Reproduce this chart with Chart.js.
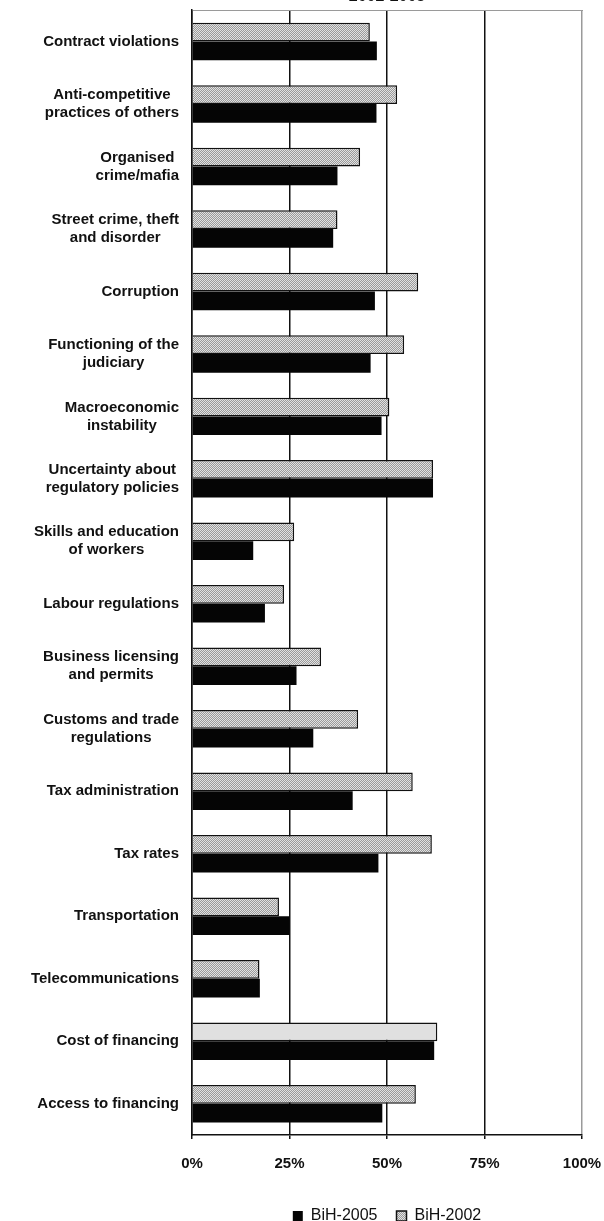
<!DOCTYPE html>
<html>
<head>
<meta charset="utf-8">
<script src="https://cdn.jsdelivr.net/npm/chart.js@4.4.1/dist/chart.umd.min.js"></script>
<style>
  html, body { margin: 0; padding: 0; background: #fff; overflow: hidden; }
  #marco { position: relative; width: 604px; height: 1221px; overflow: hidden; }
  #lienzo { position: absolute; left: 0; top: -13px; width: 604px; height: 1247px; }
</style>
</head>
<body>
<div id="marco">
  <div id="lienzo"><canvas id="grafica"></canvas></div>
</div>
<script>
/* =======================================
   DATOS
======================================= */
const categorias = [
  "Contract violations",
  ["Anti-competitive", "practices of others"],
  ["Organised", "crime/mafia"],
  ["Street crime, theft", "and disorder"],
  "Corruption",
  ["Functioning of the", "judiciary"],
  ["Macroeconomic", "instability"],
  ["Uncertainty about", "regulatory policies"],
  ["Skills and education", "of workers"],
  "Labour regulations",
  ["Business licensing", "and permits"],
  ["Customs and trade", "regulations"],
  "Tax administration",
  "Tax rates",
  "Transportation",
  "Telecommunications",
  "Cost of financing",
  "Access to financing"
];

const valores2002 = [45.6, 52.6, 43.1, 37.3, 58.0, 54.4, 50.6, 61.8, 26.2, 23.6, 33.1, 42.6, 56.6, 61.5, 22.3, 17.3, 62.9, 57.4];
const valores2005 = [47.4, 47.3, 37.3, 36.2, 46.9, 45.8, 48.6, 61.8, 15.7, 18.7, 26.8, 31.1, 41.2, 47.8, 25.0, 17.4, 62.1, 48.8];

const etiquetasSeries = ["BiH-2002", "BiH-2005"];
const ticksX = [0, 25, 50, 75, 100];
const titulo = "2002-2005";

const FUENTE = '"Liberation Sans", Arial, sans-serif';

/* =======================================
   UTILIDADES
======================================= */
// Trama punteada gris como en el original escaneado
function crearTrama() {
  const c = document.createElement("canvas");
  c.width = 2;
  c.height = 2;
  const g = c.getContext("2d");
  g.fillStyle = "#e2e2e2";
  g.fillRect(0, 0, 2, 2);
  g.fillStyle = "#9a9a9a";
  g.fillRect(0, 0, 1, 1);
  g.fillRect(1, 1, 1, 1);
  return g.createPattern(c, "repeat");
}

const trama = crearTrama();

// Etiquetas del eje Y: bloque alineado a la derecha, líneas centradas
const etiquetasCentradas = {
  id: "etiquetasCentradas",
  afterDraw(chart) {
    const escala = chart.scales.y;
    const ctx = chart.ctx;
    ctx.save();
    ctx.font = "bold 15px " + FUENTE;
    ctx.fillStyle = "#111";
    ctx.textAlign = "center";
    ctx.textBaseline = "middle";
    categorias.forEach((cat, i) => {
      const lineas = Array.isArray(cat) ? cat : [cat];
      const ancho = Math.max(...lineas.map((l) => ctx.measureText(l).width));
      const cx = escala.right - 13 - ancho / 2;
      const cy = escala.getPixelForValue(i);
      lineas.forEach((l, j) => {
        ctx.fillText(l, cx, cy + (j - (lineas.length - 1) / 2) * 18);
      });
    });
    ctx.restore();
  }
};

/* =======================================
   GRÁFICA
======================================= */
new Chart(document.getElementById("grafica"), {
  type: "bar",
  data: {
    labels: categorias,
    datasets: [
      {
        label: etiquetasSeries[0],
        data: valores2002,
        backgroundColor: (c) => (categorias[c.dataIndex] === "Cost of financing" ? "#e0e0e0" : trama),
        borderColor: "#111",
        borderWidth: 1.5,
        categoryPercentage: 0.6,
        barPercentage: 1.0
      },
      {
        label: etiquetasSeries[1],
        data: valores2005,
        backgroundColor: "#050505",
        borderColor: "#050505",
        borderWidth: 0,
        categoryPercentage: 0.6,
        barPercentage: 1.0
      }
    ]
  },
  options: {
    indexAxis: "y",
    responsive: true,
    maintainAspectRatio: false,
    animation: false,
    layout: { padding: { left: 0, right: 22, top: 0, bottom: 0 } },
    scales: {
      x: {
        min: 0,
        max: 100,
        afterBuildTicks: (s) => { s.ticks = ticksX.map((v) => ({ value: v })); },
        afterFit: (s) => { s.paddingRight = 0; },
        ticks: {
          callback: (v) => v + "%",
          color: "#111",
          font: { family: FUENTE, size: 15, weight: "bold" },
          padding: 16
        },
        grid: {
          color: (c) => (c.tick && c.tick.value === 100 ? "#9a9a9a" : "#111"),
          lineWidth: 1.5,
          tickColor: "#111",
          tickLength: 4
        },
        border: { color: "#111", width: 1.5 }
      },
      x2: {
        position: "top",
        min: 0,
        max: 100,
        ticks: { display: false },
        grid: { display: false, drawTicks: false },
        border: { color: "#9a9a9a", width: 1, dash: [2, 2] }
      },
      y: {
        afterFit: (s) => { s.width = 192; },
        ticks: {
          color: "transparent",
          font: { family: FUENTE, size: 15, weight: "bold" },
          padding: 13
        },
        grid: { display: false },
        border: { color: "#111", width: 1.5 }
      }
    },
    plugins: {
      title: {
        display: true,
        text: titulo,
        fullSize: false,
        color: "#111",
        font: { family: FUENTE, size: 16, weight: "bold" },
        padding: { top: 0, bottom: 4 }
      },
      legend: {
        position: "bottom",
        fullSize: false,
        reverse: true,
        labels: {
          color: "#111",
          font: { family: FUENTE, size: 16 },
          boxWidth: 10,
          boxHeight: 10,
          padding: 19
        }
      },
      tooltip: { enabled: false }
    }
  },
  plugins: [etiquetasCentradas]
});
</script>
</body>
</html>
